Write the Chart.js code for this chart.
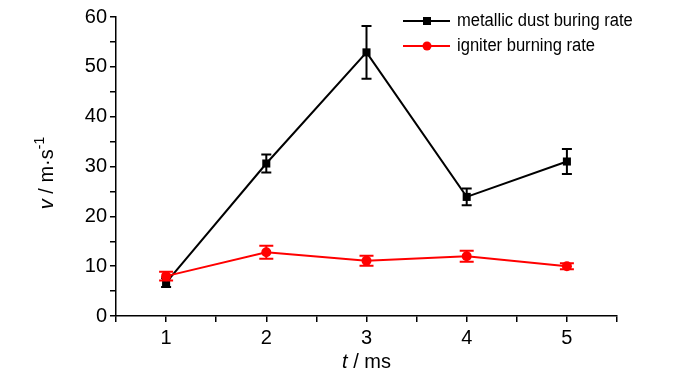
<!DOCTYPE html>
<html>
<head>
<meta charset="utf-8">
<script src="https://cdn.jsdelivr.net/npm/chart.js@4/dist/chart.umd.min.js"></script>
<style>
html,body{margin:0;padding:0;background:#fff;}
canvas{display:block;}
</style>
</head>
<body>
<canvas id="c" width="700" height="374"></canvas>
<script>
const times = [1, 2, 3, 4, 5];
const dustRate = [6.7, 30.6, 52.9, 23.9, 31.0];
const dustErr = [0.9, 1.8, 5.3, 1.7, 2.5];
const igniterRate = [8.0, 12.8, 11.1, 12.0, 10.0];
const igniterErr = [0.9, 1.3, 1.0, 1.1, 0.6];
const seriesLabels = ['metallic dust buring rate', 'igniter burning rate'];
const yTickLabels = [0, 10, 20, 30, 40, 50, 60];
const xTickLabels = [1, 2, 3, 4, 5];

const FONT = "'Liberation Sans', Arial, sans-serif";

const errorBars = {
  id: 'errorBars',
  afterDatasetDraw(chart, args) {
    const ds = chart.data.datasets[args.index];
    if (!ds.errors) return;
    const ctx = chart.ctx;
    const xs = chart.scales.x, ys = chart.scales.y;
    ctx.save();
    ctx.strokeStyle = ds.borderColor;
    ctx.lineWidth = ds.errWidth;
    ds.data.forEach((p, i) => {
      const e = ds.errors[i];
      const x = xs.getPixelForValue(p.x);
      const yt = ys.getPixelForValue(p.y + e);
      const yb = ys.getPixelForValue(p.y - e);
      const hw = ds.capHalf;
      ctx.beginPath();
      ctx.moveTo(x, yt); ctx.lineTo(x, yb);
      ctx.moveTo(x - hw, yt); ctx.lineTo(x + hw, yt);
      ctx.moveTo(x - hw, yb); ctx.lineTo(x + hw, yb);
      ctx.stroke();
    });
    ctx.restore();
  }
};

const decorations = {
  id: 'decorations',
  afterDraw(chart) {
    const ctx = chart.ctx;
    ctx.save();
    ctx.fillStyle = '#000';
    // legend
    const items = [
      {label: seriesLabels[0], color: '#000', style: 'rect', y: 21},
      {label: seriesLabels[1], color: '#ff0000', style: 'circle', y: 46}
    ];
    items.forEach(it => {
      ctx.strokeStyle = it.color;
      ctx.lineWidth = 2;
      ctx.beginPath();
      ctx.moveTo(403, it.y); ctx.lineTo(450, it.y);
      ctx.stroke();
      ctx.fillStyle = it.color;
      if (it.style === 'rect') {
        ctx.fillRect(423, it.y - 4, 8, 8);
      } else {
        ctx.beginPath(); ctx.arc(427, it.y, 4.5, 0, Math.PI * 2); ctx.fill();
      }
      ctx.fillStyle = '#000';
      ctx.save();
      ctx.translate(457, it.y);
      ctx.scale(0.92, 1);
      ctx.font = '18px ' + FONT;
      ctx.textBaseline = 'middle';
      ctx.textAlign = 'left';
      ctx.fillText(it.label, 0, 0);
      ctx.restore();
    });
    // x title
    ctx.textBaseline = 'alphabetic';
    const xa = chart.scales.x;
    const cx = (xa.left + xa.right) / 2;
    ctx.font = 'italic 20px ' + FONT;
    const w1 = ctx.measureText('t').width;
    ctx.font = '20px ' + FONT;
    const w2 = ctx.measureText(' / ms').width;
    let sx = cx - (w1 + w2) / 2;
    ctx.font = 'italic 20px ' + FONT;
    ctx.fillText('t', sx, 368);
    ctx.font = '20px ' + FONT;
    ctx.fillText(' / ms', sx + w1, 368);
    // y title
    ctx.translate(53, 173);
    ctx.rotate(-Math.PI / 2);
    ctx.font = 'italic 20px ' + FONT;
    const a = ctx.measureText('v').width;
    ctx.font = '20px ' + FONT;
    const b = ctx.measureText(' / m\u00b7s').width;
    ctx.font = '14px ' + FONT;
    const c = ctx.measureText('-1').width;
    let ox = -(a + b + c) / 2;
    ctx.font = 'italic 20px ' + FONT;
    ctx.fillText('v', ox, 0);
    ctx.font = '20px ' + FONT;
    ctx.fillText(' / m\u00b7s', ox + a, 0);
    ctx.font = '14px ' + FONT;
    ctx.fillText('-1', ox + a + b, -9);
    ctx.restore();
  }
};

new Chart(document.getElementById('c'), {
  type: 'line',
  data: {
    datasets: [
      {
        label: seriesLabels[1],
        data: times.map((t, i) => ({x: t, y: igniterRate[i]})),
        errors: igniterErr,
        borderColor: '#ff0000',
        backgroundColor: '#ff0000',
        borderWidth: 2,
        pointStyle: 'circle',
        pointRadius: 5,
        pointBorderWidth: 0,
        errWidth: 2,
        capHalf: 7,
        order: 0
      },
      {
        label: seriesLabels[0],
        data: times.map((t, i) => ({x: t, y: dustRate[i]})),
        errors: dustErr,
        borderColor: '#000000',
        backgroundColor: '#000000',
        borderWidth: 2,
        pointStyle: 'rect',
        pointRadius: 5.7,
        pointBorderWidth: 0,
        errWidth: 2,
        capHalf: 5,
        order: 1
      }
    ]
  },
  options: {
    responsive: false,
    animation: false,
    devicePixelRatio: 1,
    layout: {padding: {top: 17, right: 83, left: 0, bottom: 0}},
    plugins: {legend: {display: false}, tooltip: {enabled: false}},
    scales: {
      x: {
        type: 'linear',
        min: 0.5, max: 5.5,
        afterFit(s) { s.height = 58; },
        afterBuildTicks(s) {
          const t = [];
          for (let v = 0.5; v <= 5.5001; v += 0.5) t.push({value: v});
          s.ticks = t;
        },
        ticks: {
          autoSkip: false,
          maxRotation: 0,
          color: '#000',
          padding: 4,
          font: {family: FONT, size: 20},
          callback: v => xTickLabels.includes(v) ? String(v) : ''
        },
        grid: {drawOnChartArea: false, drawTicks: true, tickLength: 6, color: '#000', lineWidth: 1.5},
        border: {display: true, color: '#000', width: 1.5}
      },
      y: {
        type: 'linear',
        min: 0, max: 60,
        afterFit(s) { s.width = 116; },
        afterBuildTicks(s) {
          const t = [];
          for (let v = 0; v <= 60; v += 5) t.push({value: v});
          s.ticks = t;
        },
        ticks: {
          autoSkip: false,
          color: '#000',
          padding: 3,
          font: {family: FONT, size: 20},
          callback: v => yTickLabels.includes(v) ? String(v) : ''
        },
        grid: {drawOnChartArea: false, drawTicks: true, tickLength: 6, color: '#000', lineWidth: 1.5},
        border: {display: true, color: '#000', width: 1.5}
      }
    }
  },
  plugins: [errorBars, decorations]
});
</script>
</body>
</html>
